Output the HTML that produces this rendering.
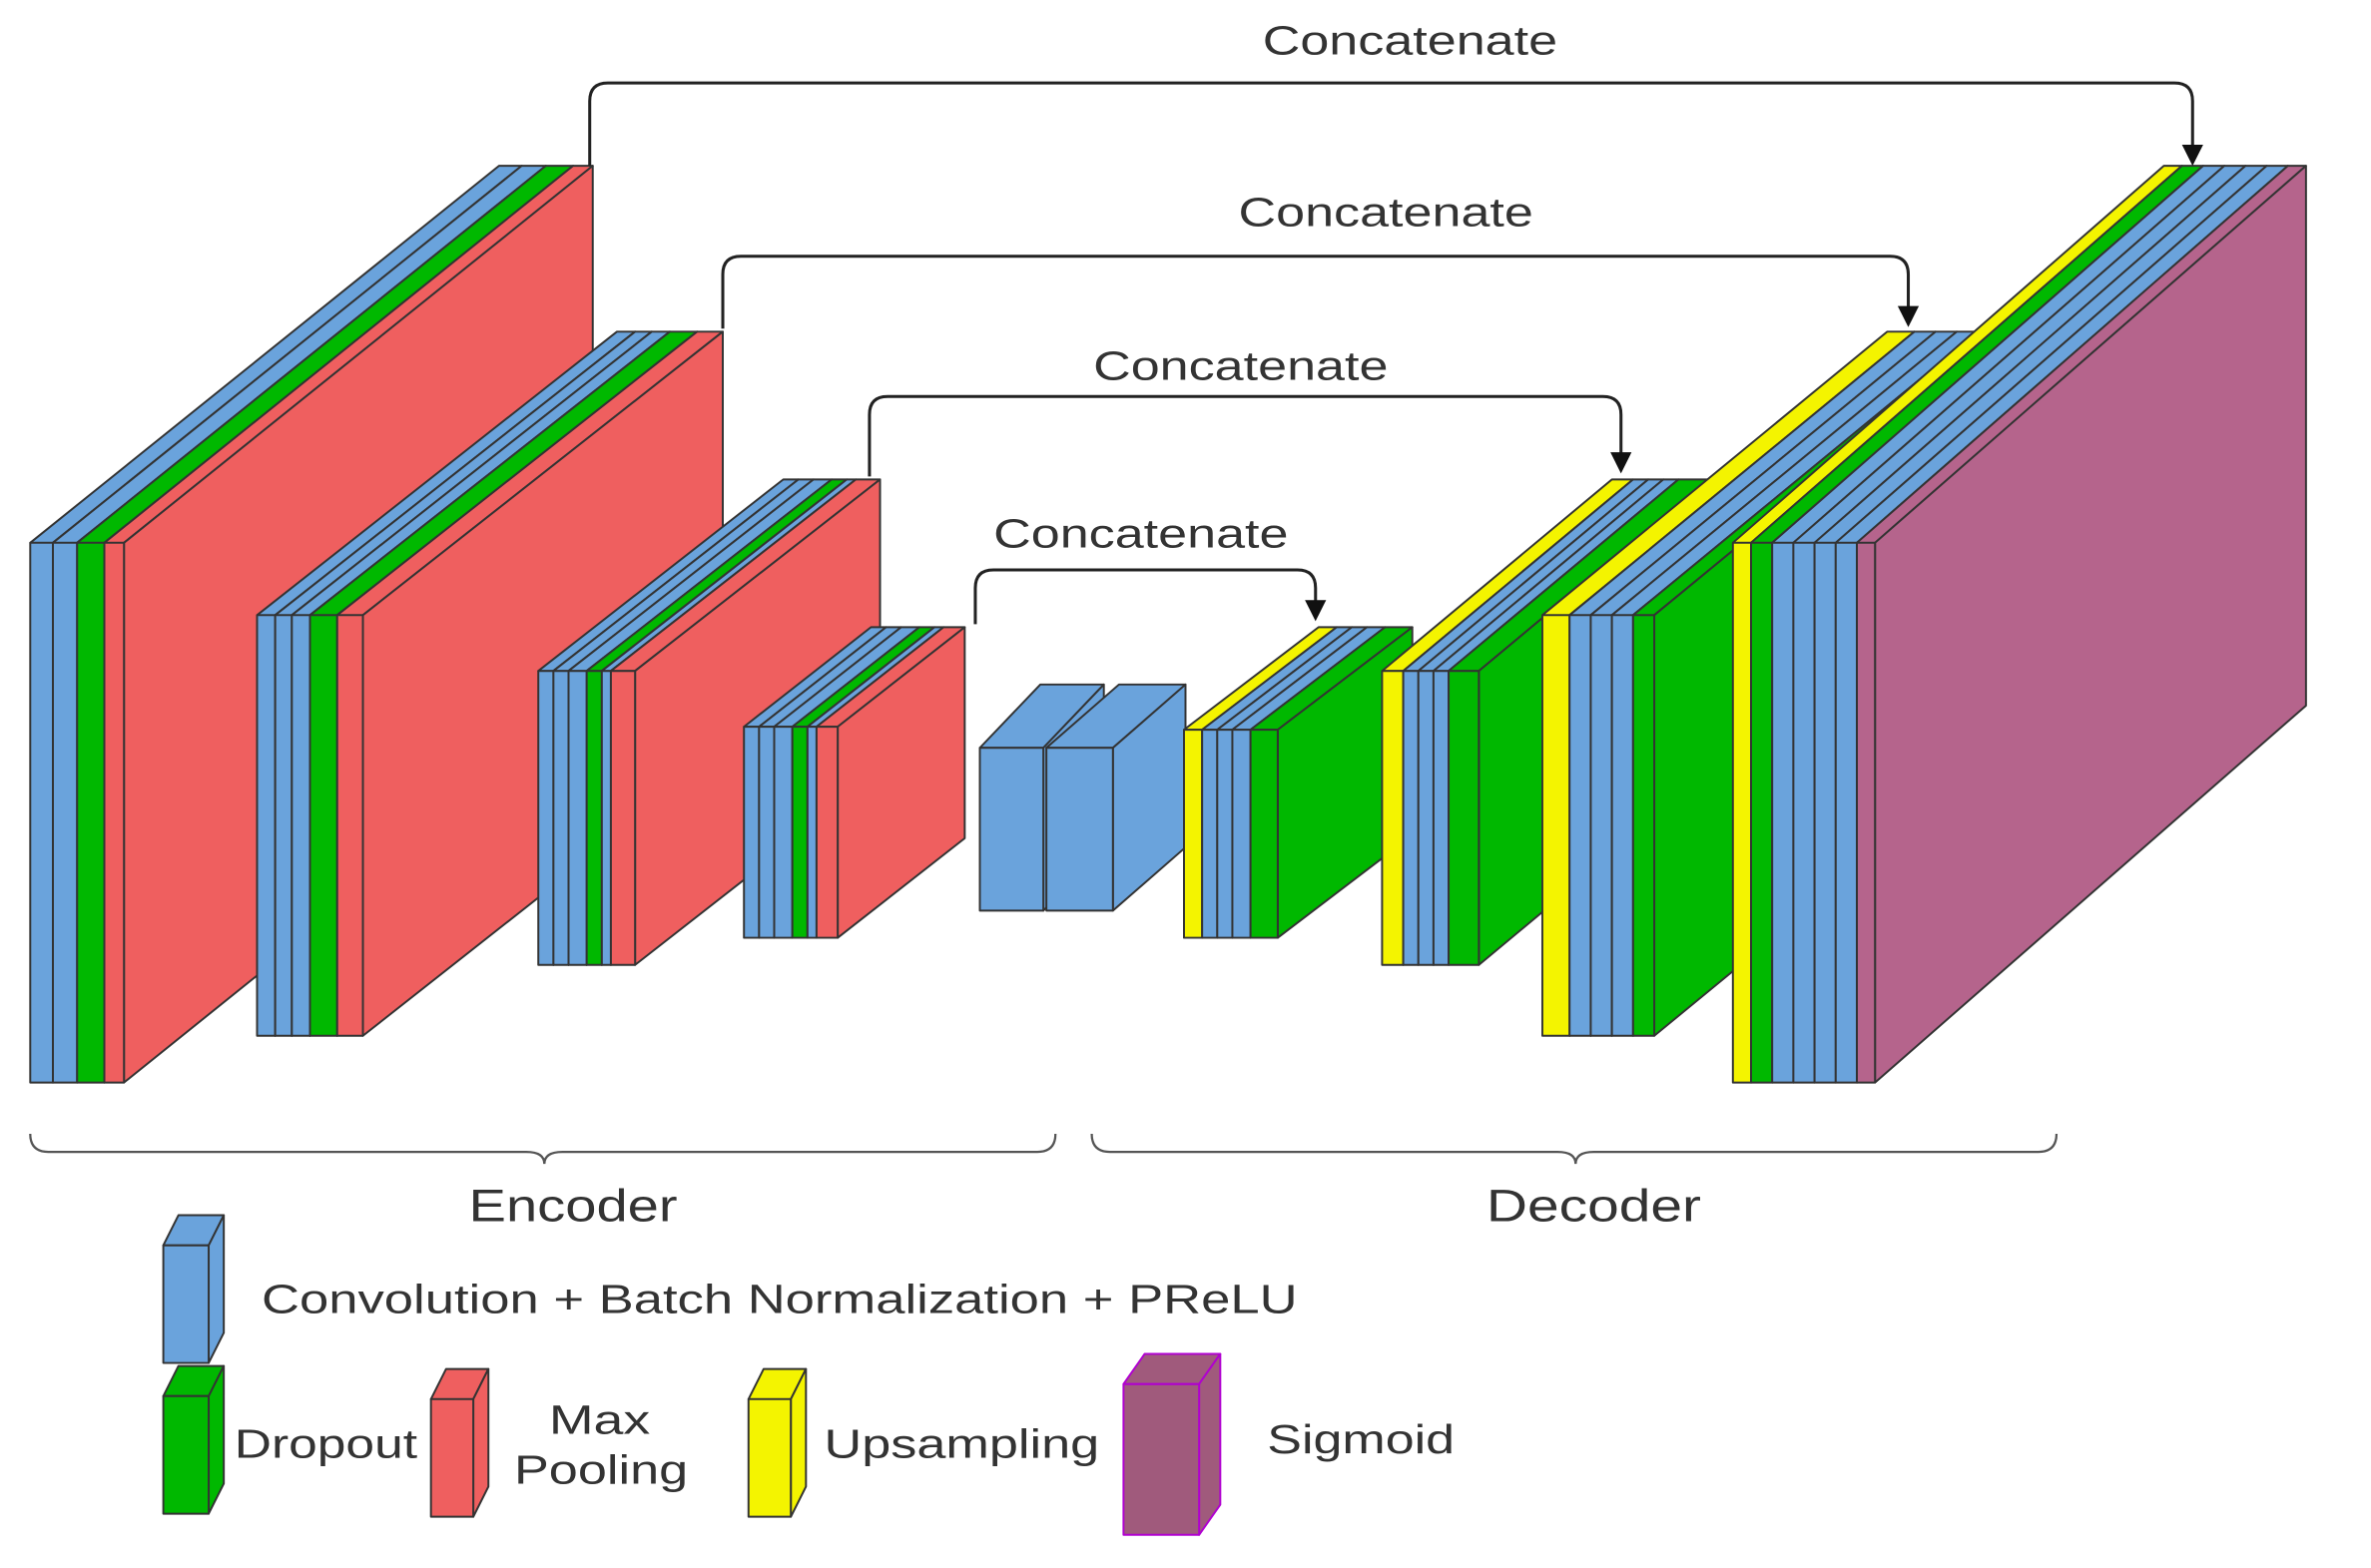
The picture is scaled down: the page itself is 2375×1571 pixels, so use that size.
<!DOCTYPE html>
<html><head><meta charset="utf-8"><style>
html,body{margin:0;padding:0;background:#fff;}
svg{display:block;}
text{font-family:"Liberation Sans",sans-serif;fill:#333;}
</style></head><body>
<svg id="s" width="2375" height="1571" viewBox="0 0 1568 1040" preserveAspectRatio="none" xmlns="http://www.w3.org/2000/svg">
<rect width="1568" height="1040" fill="#fff"/>
<g id="shapes"></g>
<g fill="none" stroke="#222" stroke-width="2">
<path d="M390 110 V67 Q390 55 402 55 H1438 Q1450 55 1450 67 V100"/>
<path d="M478 218 V182 Q478 170 490 170 H1250 Q1262 170 1262 182 V207"/>
<path d="M575 316 V275 Q575 263 587 263 H1060 Q1072 263 1072 275 V304"/>
<path d="M645 414 V390 Q645 378 657 378 H858 Q870 378 870 390 V402"/>
<path d="M20 752 Q20 764 32 764 H348 Q360 764 360 772 Q360 764 372 764 H686 Q698 764 698 752" stroke-width="1.5" stroke="#555"/>
<path d="M722 752 Q722 764 734 764 H1030 Q1042 764 1042 772 Q1042 764 1054 764 H1348 Q1360 764 1360 752" stroke-width="1.5" stroke="#555"/>
</g>
<g fill="#111">
<polygon points="1443,96 1457,96 1450,110"/>
<polygon points="1255,203 1269,203 1262,217"/>
<polygon points="1065,300 1079,300 1072,314"/>
<polygon points="863,398 877,398 870,412"/>
</g>
<g font-size="27" lengthAdjust="spacingAndGlyphs">
<text x="835" y="36" textLength="195" lengthAdjust="spacingAndGlyphs">Concatenate</text>
<text x="819" y="150" textLength="195" lengthAdjust="spacingAndGlyphs">Concatenate</text>
<text x="723" y="252" textLength="195" lengthAdjust="spacingAndGlyphs">Concatenate</text>
<text x="657" y="363" textLength="195" lengthAdjust="spacingAndGlyphs">Concatenate</text>
<text x="310" y="810" font-size="30" textLength="138" lengthAdjust="spacingAndGlyphs">Encoder</text>
<text x="983" y="810" font-size="30" textLength="142" lengthAdjust="spacingAndGlyphs">Decoder</text>
</g>
<g font-size="27">
<text x="173" y="871" textLength="685" lengthAdjust="spacingAndGlyphs">Convolution + Batch Normalization + PReLU</text>
<text x="155" y="967" textLength="121" lengthAdjust="spacingAndGlyphs">Dropout</text>
<text x="363" y="951" textLength="67" lengthAdjust="spacingAndGlyphs">Max</text>
<text x="340" y="984" textLength="115" lengthAdjust="spacingAndGlyphs">Pooling</text>
<text x="545" y="967" textLength="182" lengthAdjust="spacingAndGlyphs">Upsampling</text>
<text x="838" y="964" textLength="124" lengthAdjust="spacingAndGlyphs">Sigmoid</text>
</g>
</svg>
<script>
var B='#6aa3dc',G='#00b800',R='#ef5f5f',Y='#f4f400',P='#b5648c';
var out='';
function slab(x,y,w,h,dx,dy,c,st){
 st=st||'#333';
 var a='stroke="'+st+'" stroke-width="1.3" stroke-linejoin="round"';
 out+='<polygon points="'+x+','+y+' '+(x+dx)+','+(y+dy)+' '+(x+w+dx)+','+(y+dy)+' '+(x+w)+','+y+'" fill="'+c+'" '+a+'/>';
 out+='<polygon points="'+(x+w)+','+y+' '+(x+w+dx)+','+(y+dy)+' '+(x+w+dx)+','+(y+h+dy)+' '+(x+w)+','+(y+h)+'" fill="'+c+'" '+a+'/>';
 out+='<rect x="'+x+'" y="'+y+'" width="'+w+'" height="'+h+'" fill="'+c+'" '+a+'/>';
}
function block(x,y,h,dx,dy,list){
 for(var i=0;i<list.length;i++){slab(x,y,list[i][1],h,dx,dy,list[i][0]);x+=list[i][1];}
}
block(20,360,358,310,-250,[[B,15],[B,16],[G,18],[R,13]]);
block(170,408,279,238,-188,[[B,12],[B,11],[B,12],[G,18],[R,17]]);
block(356,445,195,162,-127,[[B,10],[B,10],[B,12],[G,10],[B,6],[R,16]]);
block(492,482,140,84,-66,[[B,10],[B,10],[B,12],[G,10],[B,6],[R,14]]);
block(648,496,108,40,-42,[[B,42]]);
block(692,496,108,48,-42,[[B,44]]);
block(783,484,138,89,-68,[[Y,12],[B,10],[B,10],[B,12],[G,18]]);
block(914,445,195,152,-127,[[Y,14],[B,10],[B,10],[B,10],[G,20]]);
block(1020,408,279,228,-188,[[Y,18],[B,14],[B,14],[B,14],[G,14]]);
block(1146,360,358,285,-250,[[Y,12],[G,14],[B,14],[B,14],[B,14],[B,14],[P,12]]);
slab(108,826,30,78,10,-20,B);
slab(108,926,30,78,10,-20,G);
slab(285,928,28,78,10,-20,R);
slab(495,928,28,78,10,-20,Y);
slab(743,918,50,100,14,-20,'#a05a7c','#b000d0');
document.getElementById('shapes').innerHTML=out;
</script>
</body></html>
